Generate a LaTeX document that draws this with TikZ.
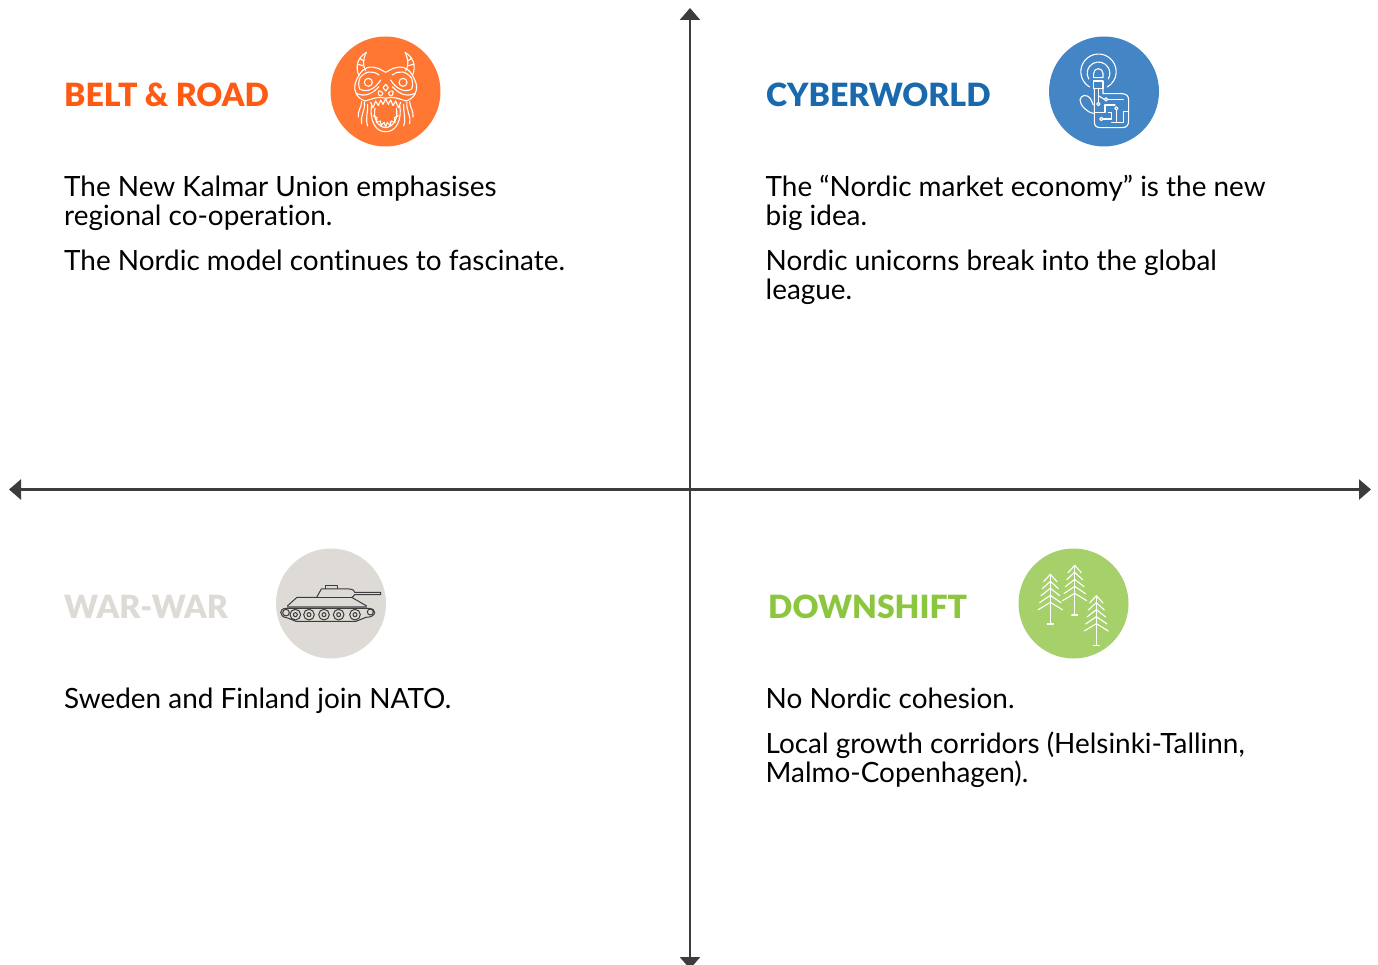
\documentclass[tikz,border=0pt]{standalone}
\usepackage{fontspec}
\setmainfont{Lato}[Ligatures={TeX,NoCommon}]
\newfontfamily\headfont{Lato Black}
\usetikzlibrary{arrows.meta}
\definecolor{axiscol}{HTML}{3C3C3C}
\definecolor{beltcol}{HTML}{FF5A14}
\definecolor{beltdisc}{HTML}{FF7733}
\definecolor{cybercol}{HTML}{1A69AE}
\definecolor{cyberdisc}{HTML}{4385C5}
\definecolor{warcol}{HTML}{DEDAD5}
\definecolor{downcol}{HTML}{8CC63F}
\definecolor{downdisc}{HTML}{A6D16A}
\tikzset{
  axis/.style={line width=2.4pt, draw=axiscol, {Triangle[length=12pt,width=20pt]}-{Triangle[length=12pt,width=20pt]}},
  heading/.style={anchor=base west, font=\fontsize{32}{32}\selectfont\headfont},
  body/.style={anchor=north west, align=left, inner sep=0pt, text=black, font=\fontsize{27.9}{29}\selectfont},
  disc/.style={circle, minimum size=110pt, inner sep=0pt},
  iconline/.style={draw=white, line width=1.1pt, line join=round, line cap=round},
  tankline/.style={draw=axiscol, line width=1pt, line join=round},
}
\begin{document}
\begin{tikzpicture}[x=1pt, y=-1pt]
\useasboundingbox (0, 0) rectangle (1378, 965);

% Axes
\coordinate (north) at (690, 8);
\coordinate (south) at (690, 969);
\coordinate (west) at (9, 489.5);
\coordinate (east) at (1371, 489.5);
\draw[axis] (north) -- (south);
\draw[axis] (west) -- (east);

% Headings
\node[heading, inner sep=0pt, text=beltcol] (belt) at (64, 106.5) {BELT \& ROAD};
\node[heading, inner sep=0pt, text=cybercol] (cyber) at (766, 106.5) {CYBERWORLD};
\node[heading, inner sep=0pt, text=warcol] (war) at (64, 618.5) {WAR-WAR};
\node[heading, inner sep=0pt, text=downcol] (down) at (768, 618.5) {DOWNSHIFT};

% Body text
\node[body] (belta) at (64, 175.5) {The New Kalmar Union emphasises\\regional co-operation.};
\node[body] (beltb) at (64, 249.5) {The Nordic model continues to fascinate.};
\node[body] (cybera) at (765.5, 174.5) {The ``Nordic market economy'' is the new\\big idea.};
\node[body] (cyberb) at (765.5, 249.5) {Nordic unicorns break into the global\\league.};
\node[body] (wara) at (64, 687.5) {Sweden and Finland join NATO.};
\node[body] (downa) at (765.5, 687.5) {No Nordic cohesion.};
\node[body] (downb) at (765.5, 731.5) {Local growth corridors (Helsinki-Tallinn,\\Malmo-Copenhagen).};

% Discs
\node[disc, fill=beltdisc] (beltdot) at (385.5, 91.5) {};
\node[disc, fill=cyberdisc] (cyberdot) at (1104, 91.5) {};
\node[disc, fill=warcol] (wardot) at (331, 603.5) {};
\node[disc, fill=downdisc] (downdot) at (1073.5, 603.5) {};

% Dragon
\begin{scope}[shift={(385.67, 25)}, x=0.3333pt, y=-0.3333pt]
\foreach \s in {1, -1} {
\begin{scope}[xscale=\s]
\draw[iconline] (-80, 152) .. controls (-92, 125) and (-85, 98) .. (-58, 82) .. controls (-70, 105) and (-68, 125) .. (-60, 137);
\draw[iconline] (-84, 118) -- (-68, 122);
\draw[iconline] (-78, 100) -- (-66, 108);
\draw[iconline] (0, 142) .. controls (-15, 134) and (-30, 122) .. (-55, 128) .. controls (-72, 133) and (-85, 155) .. (-92, 178);
\draw[iconline] (-20, 150) .. controls (-40, 135) and (-62, 138) .. (-78, 160) .. controls (-82, 170) and (-82, 180) .. (-78, 192);
\draw[iconline] (-52, 172) circle[radius=12];
\draw[iconline] (-92, 178) .. controls (-95, 200) and (-88, 218) .. (-62, 228);
\draw[iconline] (-15, 165) .. controls (-30, 190) and (-55, 205) .. (-78, 192);
\draw[iconline] (-88, 205) .. controls (-60, 218) and (-40, 205) .. (-20, 185);
\draw[iconline] (-8, 205) .. controls (-15, 195) and (-25, 195) .. (-22, 205) .. controls (-20, 215) and (-12, 215) .. (-8, 205);
\draw[iconline] (-62, 228) .. controls (-40, 222) and (-20, 212) .. (0, 220);
\draw[iconline] (-45, 232) -- (-38, 248) -- (-30, 228) -- (-22, 242) -- (-15, 225) -- (-8, 238) -- (0, 222);
\draw[iconline] (-42, 240) .. controls (-50, 285) and (-30, 322) .. (0, 320);
\draw[iconline] (-32, 250) .. controls (-38, 280) and (-25, 305) .. (0, 308);
\draw[iconline] (-38, 272) -- (-26, 278) -- (-28, 292) -- (-16, 288) -- (-14, 302) -- (-5, 292) -- (0, 305);
\draw[iconline] (-72, 230) .. controls (-72, 245) and (-85, 260) .. (-82, 276);
\draw[iconline] (-64, 232) .. controls (-60, 255) and (-78, 275) .. (-72, 296);
\draw[iconline] (-54, 238) .. controls (-52, 260) and (-62, 280) .. (-54, 303);
\end{scope}
}
\draw[iconline] (0, 178) -- (-8, 188) -- (0, 198) -- (8, 188) -- cycle;
\end{scope}

% Finger and circuit
\begin{scope}[shift={(1040, 25)}, x=0.3333pt, y=-0.3333pt]
\draw[iconline] (149, 186) arc[start angle=120, end angle=420, radius=53];
\draw[iconline] (146, 162) arc[start angle=150, end angle=390, radius=34];
\draw[iconline] (161, 158) -- (161, 145) arc[start angle=180, end angle=360, radius=14] -- (189, 158) -- cycle;
\draw[iconline] (161, 168) rectangle (189, 190);
\draw[iconline] (163, 190) -- (163, 290) .. controls (163, 303) and (170, 308) .. (182, 308) -- (245, 308) .. controls (260, 308) and (266, 302) .. (266, 285) -- (266, 225) .. controls (266, 212) and (258, 206) .. (245, 206) -- (189, 206) -- (189, 190);
\draw[iconline] (160, 265) .. controls (140, 262) and (120, 240) .. (120, 225) .. controls (122, 210) and (140, 205) .. (152, 222) -- (160, 240);
\draw[iconline] (175, 190) -- (175, 232);
\draw[iconline] (175, 237) circle[radius=5];
\draw[iconline] (175, 212) -- (193, 223);
\draw[iconline] (198, 223) circle[radius=5];
\draw[iconline] (203, 223) -- (250, 223);
\draw[iconline] (163, 262) -- (195, 262) -- (195, 240) -- (225, 240);
\draw[iconline] (229, 250) circle[radius=5];
\draw[iconline] (229, 255) -- (229, 292);
\draw[iconline] (190, 282) -- (215, 282) -- (215, 262) -- (205, 262);
\draw[iconline] (184, 282) circle[radius=5];
\draw[iconline] (215, 292) -- (250, 292) -- (250, 260) -- (266, 260);
\end{scope}

% Tank
\begin{scope}[shift={(266, 540)}, x=0.3333pt, y=-0.3333pt]
\draw[tankline] (64, 198) -- (93, 172) -- (152, 172) -- (166, 147) -- (250, 147) .. controls (262, 148) and (266, 153) .. (266, 157) -- (344, 157) -- (344, 164) -- (266, 164) .. controls (264, 168) and (260, 171) .. (257, 172) -- (302, 198);
\draw[tankline] (152, 172) -- (257, 172);
\draw[tankline] (178, 147) -- (178, 138) -- (216, 138) -- (216, 147);
\fill[axiscol!70] (64, 197) rectangle (302, 204);
\draw[tankline] (62, 205) -- (304, 205) .. controls (320, 205) and (327, 210) .. (326, 218) .. controls (325, 226) and (315, 232) .. (300, 232) -- (270, 244) -- (90, 244) -- (65, 234) .. controls (50, 232) and (44, 225) .. (44, 217) .. controls (44, 210) and (50, 205) .. (62, 205) -- cycle;
\draw[tankline] (60, 218) circle[radius=10];
\draw[tankline] (313, 216) circle[radius=9];
\foreach \xpos in {88, 129, 174, 218, 267} {
\draw[tankline] (\xpos, 224) circle[radius=16];
\draw[tankline] (\xpos, 224) circle[radius=6];
}
\end{scope}

% Trees
\begin{scope}[shift={(1008, 540)}, x=0.3333pt, y=-0.3333pt]
\foreach \xpos/\ypos/\ytop/\ybot in {127/103/103/252, 200/76/76/225, 265/167/167/316} {
\draw[iconline] (\xpos, \ytop) -- (\xpos, \ybot);
\draw[iconline] (\xpos-9, \ybot) -- (\xpos+9, \ybot);
\foreach \i in {0, 1, 2, 3, 4} {
\draw[iconline] ({\xpos-20-\i*4}, {\ypos+22+\i*21}) -- (\xpos, {\ypos+\i*21}) -- ({\xpos+20+\i*4}, {\ypos+22+\i*21});
}
}
\end{scope}
\end{tikzpicture}
\end{document}
